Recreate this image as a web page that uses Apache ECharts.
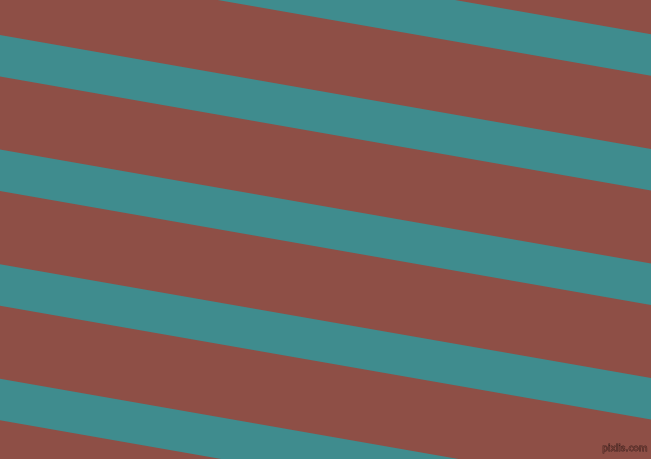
<!DOCTYPE html>
<html>
<head>
<meta charset="utf-8">
<script src="https://cdn.jsdelivr.net/npm/echarts@6/dist/echarts.min.js"></script>
<style>html,body{margin:0;padding:0;background:#8e4f46;}#c{width:651px;height:459px;}</style>
</head>
<body>
<div id="c"></div>
<script>
// Stripe edges (y at left edge x=0 and right edge x=651), in picture units
const stripeTopLeft = [-79.6, 35, 149.6, 264.2, 378.8];
const stripeTopRight = [34.3, 148.9, 263.5, 378.1, 492.7];
const stripeBottomLeft = [-38.1, 76.5, 191.1, 305.7, 420.3];
const stripeBottomRight = [75.8, 190.4, 305, 419.6, 534.2];
const xRange = [0, 651];
const yRange = [0, 459];

const data = stripeTopLeft.map((v, i) => [v, stripeTopRight[i], stripeBottomLeft[i], stripeBottomRight[i]]);

const chart = echarts.init(document.getElementById('c'), null, {renderer: 'canvas'});
chart.setOption({
  backgroundColor: '#8e4f46',
  animation: false,
  grid: {left: 0, right: 0, top: 0, bottom: 0},
  xAxis: {type: 'value', min: xRange[0], max: xRange[1], show: false},
  yAxis: {type: 'value', min: yRange[0], max: yRange[1], inverse: true, show: false},
  series: [{
    type: 'custom',
    clip: true,
    data: data,
    renderItem: function (params, api) {
      const p1 = api.coord([xRange[0], api.value(0)]);
      const p2 = api.coord([xRange[1], api.value(1)]);
      const p3 = api.coord([xRange[1], api.value(3)]);
      const p4 = api.coord([xRange[0], api.value(2)]);
      return {
        type: 'polygon',
        shape: {points: [p1, p2, p3, p4]},
        style: {fill: '#3f8c8e', stroke: null}
      };
    }
  }],
  graphic: [{
    type: 'text',
    right: 3,
    bottom: 5,
    style: {text: 'pixlis.com', fill: '#7a4139', stroke: '#3e2420', lineWidth: 0.8, font: '9px "DejaVu Sans"'}
  }]
});
</script>
</body>
</html>
